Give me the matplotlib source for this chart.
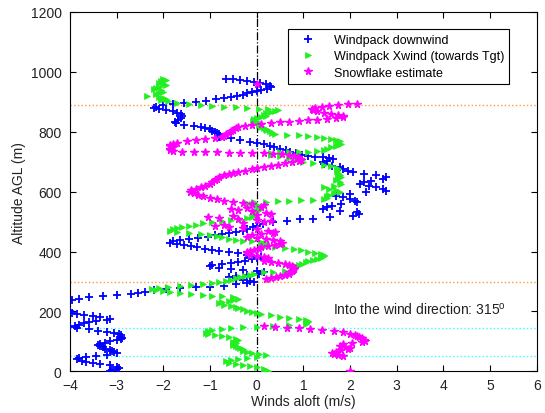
import matplotlib
matplotlib.use("Agg")
import matplotlib.pyplot as plt

plt.rcParams['font.family'] = ['Liberation Sans', 'DejaVu Sans']

# Windpack downwind component (m/s) vs altitude (m)
down_alt = [977, 975, 973, 970, 967, 963, 958, 953, 948, 944, 940, 936, 932, 928, 924, 920,
            916, 912, 908, 904, 900, 896, 892, 888, 884, 880, 876, 872, 868, 864, 858, 852,
            846, 840, 834, 828, 824, 820, 816, 812, 808, 804, 800, 796, 792, 787, 782, 778,
            772, 767, 763, 758, 754, 749, 744, 738, 733, 728, 724, 720, 717, 715, 712, 709,
            703, 698, 693, 687, 682, 676, 670, 665, 659, 654, 648, 642, 637, 631, 626, 620,
            615, 609, 603, 598, 592, 587, 581, 576, 570, 565, 559, 553, 548, 542, 537, 531,
            525, 520, 515, 509, 507, 503, 498, 492, 486, 481, 475, 470, 466, 462, 458, 454,
            450, 446, 442, 438, 434, 430, 426, 422, 418, 414, 410, 406, 402, 398, 394, 390,
            386, 382, 378, 374, 370, 366, 362, 358, 354, 350, 346, 342, 338, 334, 330, 326,
            322, 318, 314, 310, 306, 302, 298, 294, 290, 286, 283, 280, 277, 274, 270, 266,
            262, 258, 254, 250, 247, 243, 239, 235, 230, 210, 200, 196, 192, 188, 184, 180,
            176, 172, 168, 164, 160, 156, 152, 148, 144, 140, 136, 132, 128, 124, 120, 116,
            112, 108, 104, 100, 96, 92, 88, 84, 80, 76, 72, 68, 64, 60, 56, 52,
            48, 44, 40, 36, 32, 28, 24, 20, 16, 12, 8, 4, 1]
down_wind = [-0.66, -0.5, -0.35, -0.2, -0.05, 0.08, 0.2, 0.28, 0.3, 0.22, 0.1, 0.0, -0.1, -0.2, -0.3, -0.42,
             -0.55, -0.7, -0.88, -1.08, -1.3, -1.55, -1.8, -2.0, -2.15, -2.2, -2.1, -1.95, -1.8, -1.7, -1.62, -1.6,
             -1.62, -1.68, -1.75, -1.72, -1.55, -1.35, -1.2, -1.1, -1.0, -0.95, -0.9, -0.85, -0.8, -0.78, -0.8, -0.55,
             -0.35, -0.15, 0.0, 0.15, 0.28, 0.38, 0.5, 0.62, 0.72, 0.85, 0.98, 1.1, 1.25, 1.42, 1.55, 1.64,
             1.5, 1.42, 1.45, 1.62, 1.78, 1.86, 1.95, 2.07, 2.3, 2.55, 2.78, 2.7, 2.45, 2.3, 2.21, 2.4,
             2.55, 2.7, 2.78, 2.35, 2.0, 1.7, 1.85, 2.0, 2.1, 2.14, 1.8, 1.62, 1.5, 1.43, 1.78, 2.14,
             2.2, 2.07, 1.57, 1.21, 0.93, 0.64, 0.36, 0.14, 0.0, -0.07, -0.21, -0.3, -0.45, -0.6, -0.75, -0.9,
             -1.05, -1.25, -1.45, -1.65, -1.8, -1.85, -1.7, -1.55, -1.4, -1.28, -1.1, -0.95, -0.8, -0.6, -0.4, -0.2,
             0.0, 0.1, 0.0, -0.1, -0.25, -0.4, -0.55, -0.75, -0.95, -1.0, -0.8, -0.55, -0.3, 0.0, 0.15, 0.05,
             -0.2, -0.45, -0.6, -0.45, -0.3, -0.15, -0.05, -0.2, -0.45, -0.7, -1.0, -1.3, -1.65, -1.95, -2.2, -2.4,
             -2.55, -2.7, -3.0, -3.3, -3.6, -3.8, -3.95, -4.1, -4.3, -4.2, -4.0, -3.95, -3.85, -3.7, -3.5, -3.35,
             -3.15, -3.2, -3.45, -3.6, -3.7, -3.8, -3.9, -4.0, -3.85, -3.6, -3.4, -3.2, -3.05, -2.95, -2.9, -2.9,
             -2.88, -2.9, -3.0, -3.15, -3.25, -3.35, -3.4, -3.35, -3.3, -3.25, -3.15, -3.1, -3.05, -3.0, -3.2, -3.45,
             -3.65, -3.8, -3.85, -3.75, -3.65, -3.5, -3.35, -3.15, -3.0, -2.95, -3.0, -3.1, -3.15]

# Windpack crosswind component (towards target)
cross_alt = [977, 972, 968, 964, 960, 955, 950, 946, 942, 938, 934, 930, 926, 921, 917, 913,
             909, 905, 901, 897, 893, 889, 886, 883, 881, 879, 877, 875, 872, 869, 865, 861,
             857, 853, 849, 845, 841, 837, 833, 829, 825, 821, 817, 813, 809, 805, 801, 797,
             793, 790, 788, 786, 783, 780, 776, 772, 768, 764, 760, 756, 752, 748, 744, 740,
             736, 734, 733, 732, 731, 729, 724, 718, 712, 706, 700, 695, 690, 686, 680, 674,
             668, 662, 656, 650, 644, 638, 632, 626, 620, 615, 610, 605, 600, 596, 590, 585,
             580, 576, 573, 571, 570, 569, 567, 565, 563, 560, 556, 552, 546, 540, 534, 528,
             522, 516, 511, 507, 504, 501, 498, 494, 490, 486, 482, 478, 474, 470, 466, 462,
             459, 455, 451, 447, 443, 439, 436, 434, 433, 430, 425, 420, 416, 412, 408, 404,
             400, 396, 392, 388, 384, 380, 376, 372, 368, 364, 360, 356, 352, 348, 344, 340,
             336, 333, 330, 326, 322, 318, 314, 310, 306, 302, 298, 294, 290, 287, 284, 281,
             278, 275, 272, 268, 265, 262, 259, 256, 253, 250, 247, 243, 239, 235, 231, 227,
             223, 219, 215, 211, 207, 203, 199, 195, 191, 187, 183, 179, 175, 171, 167, 163,
             159, 155, 152, 149, 147, 144, 141, 137, 133, 129, 125, 121, 117, 113, 109, 105,
             101, 97, 93, 89, 85, 81, 77, 73, 69, 65, 61, 57, 53, 49, 45, 41,
             37, 33, 29, 25, 21, 17, 13, 9, 5, 2]
cross_wind = [-2.0, -1.95, -2.05, -2.1, -2.0, -1.95, -2.1, -2.15, -2.2, -2.05, -2.0, -2.1, -2.15, -2.35, -2.1, -2.0,
              -1.95, -2.05, -1.9, -1.7, -1.45, -1.2, -0.95, -0.7, -0.45, -0.2, 0.05, 0.25, 0.45, 0.4, 0.3, 0.2,
              0.15, 0.2, 0.1, 0.0, -0.05, -0.08, 0.0, 0.05, 0.1, 0.05, 0.1, 0.15, 0.2, 0.22, 0.28, 0.33,
              0.4, 0.65, 0.9, 1.1, 1.3, 1.45, 1.6, 1.7, 1.78, 1.75, 1.8, 1.75, 1.7, 1.6, 1.5, 1.45,
              1.3, 1.1, 0.9, 0.7, 0.5, 0.3, 0.3, 0.5, 0.7, 0.85, 1.0, 1.2, 1.45, 1.6, 1.72, 1.75,
              1.72, 1.75, 1.78, 1.8, 1.75, 1.7, 1.78, 1.8, 1.65, 1.45, 1.55, 1.7, 1.78, 1.65, 1.55, 1.5,
              1.5, 1.45, 1.2, 0.95, 0.7, 0.45, 0.2, -0.05, -0.2, -0.1, 0.0, 0.05, 0.1, 0.05, 0.0, -0.05,
              -0.05, -0.1, -0.2, -0.35, -0.55, -0.75, -0.95, -1.15, -1.3, -1.45, -1.6, -1.7, -1.8, -1.85, -1.7, -1.45,
              -1.2, -1.0, -0.85, -0.75, -0.6, -0.45, -0.3, -0.1, 0.1, 0.2, 0.15, 0.2, 0.4, 0.6, 0.8, 0.95,
              1.1, 1.25, 1.38, 1.45, 1.45, 1.38, 1.3, 1.2, 1.1, 1.05, 0.98, 0.9, 0.85, 0.8, 0.78, 0.75,
              0.6, 0.35, 0.15, -0.05, -0.15, -0.25, -0.35, -0.45, -0.55, -0.65, -0.8, -0.95, -1.15, -1.4, -1.65, -1.9,
              -2.1, -2.25, -2.15, -2.0, -1.85, -1.65, -1.4, -1.15, -0.95, -0.75, -0.5, -0.4, -0.5, -0.6, -0.75, -0.8,
              -0.7, -0.55, -0.45, -0.4, -0.3, -0.2, -0.1, 0.0, 0.1, 0.3, 0.5, 0.7, 0.9, 1.05, 1.1, 1.1,
              1.05, 0.7, 0.35, 0.0, -0.3, -0.55, -0.75, -0.95, -1.05, -1.08, -1.05, -0.9, -0.75, -0.6, -0.45, -0.4,
              -0.45, -0.5, -0.45, -0.5, -0.45, -0.4, -0.35, -0.3, -0.3, -0.2, -0.1, 0.05, 0.2, 0.0, -0.2, -0.4,
              -0.55, -0.65, -0.6, -0.45, -0.3, -0.15, 0.0, 0.15, 0.2, 0.25]

# Snowflake drift estimate
snow_alt = [958, 893, 891, 889, 887, 884, 880, 876, 872, 868, 864, 860, 856, 852, 848, 845,
            842, 840, 838, 836, 834, 832, 829, 826, 823, 819, 815, 811, 806, 801, 796, 791,
            786, 782, 778, 775, 772, 768, 764, 760, 756, 752, 748, 744, 740, 736, 733, 732,
            731, 731, 730, 730, 729, 728, 727, 725, 722, 718, 714, 710, 706, 702, 698, 694,
            690, 686, 682, 678, 674, 670, 666, 662, 658, 654, 648, 643, 638, 632, 626, 620,
            615, 610, 605, 600, 595, 590, 585, 580, 575, 570, 566, 562, 558, 554, 550, 546,
            542, 538, 534, 530, 526, 522, 518, 515, 512, 509, 506, 502, 498, 494, 490, 486,
            482, 478, 474, 470, 466, 462, 458, 454, 450, 446, 442, 438, 434, 430, 426, 422,
            418, 414, 410, 406, 402, 398, 394, 390, 386, 382, 378, 374, 370, 366, 362, 358,
            354, 350, 346, 342, 338, 334, 330, 326, 322, 318, 314, 310, 307,
            150, 148, 146, 144, 141, 138, 134, 130, 126, 122, 118, 114, 110, 106, 102, 98,
            94, 90, 86, 82, 78, 74, 70, 66, 62, 58, 54, 51, 0]
snow_wind = [0.0, 2.15, 1.95, 1.75, 1.55, 1.4, 1.25, 1.18, 1.2, 1.3, 1.45, 1.6, 1.75, 1.85, 1.85, 1.7,
             1.5, 1.3, 1.1, 0.9, 0.7, 0.5, 0.3, 0.1, -0.1, -0.25, -0.4, -0.45, -0.5, -0.55, -0.6, -0.65,
             -0.7, -0.75, -0.9, -1.1, -1.3, -1.5, -1.7, -1.8, -1.85, -1.85, -1.8, -1.85, -1.85, -1.8, -1.6, -1.35,
             -1.1, -0.85, -0.6, -0.35, -0.1, 0.15, 0.35, 0.55, 0.7, 0.8, 0.88, 0.93, 0.95, 0.9, 0.75, 0.6,
             0.45, 0.3, 0.15, 0.0, -0.1, -0.25, -0.4, -0.5, -0.6, -0.7, -0.8, -0.85, -0.9, -0.95, -1.0, -1.1,
             -1.2, -1.3, -1.4, -1.42, -1.35, -1.25, -1.15, -1.0, -0.85, -0.7, -0.5, -0.3, -0.1, 0.15, 0.1, -0.2,
             -0.55, -0.4, -0.1, 0.2, 0.3, 0.0, -0.5, -1.05, -0.8, -0.4, 0.0, 0.3, 0.15, -0.3, -0.7, -0.9,
             -0.6, -0.3, 0.0, 0.25, 0.4, 0.35, 0.1, -0.1, -0.2, 0.0, 0.2, 0.35, 0.5, 0.55, 0.5, 0.4,
             0.25, 0.1, 0.05, -0.05, -0.15, -0.2, -0.2, -0.15, 0.0, 0.15, 0.25, 0.2, 0.15, 0.3, 0.45, 0.6,
             0.7, 0.75, 0.8, 0.8, 0.78, 0.75, 0.72, 0.7, 0.6, 0.5, 0.42, 0.3, 0.2,
             0.15, 0.4, 0.65, 0.9, 1.15, 1.4, 1.65, 1.85, 2.0, 2.1, 2.15, 2.2, 2.25, 2.3, 2.32, 2.25,
             2.05, 1.85, 1.78, 1.9, 2.0, 1.95, 1.8, 1.7, 1.62, 1.65, 1.75, 1.85, 2.0]

orange_levels = [890, 297]
cyan_levels = [143, 52]
wind_dir = 315

fig = plt.figure(figsize=(5.45, 4.14), dpi=100)
ax = fig.add_axes([0.1284, 0.1007, 0.8564, 0.868])

# reference lines
for lev in orange_levels:
    ax.axhline(lev, color='#ff9933', linestyle=':', linewidth=1.0, zorder=1)
for lev in cyan_levels:
    ax.axhline(lev, color='#33ffff', linestyle=':', linewidth=1.0, zorder=1)
ax.axvline(0, color='black', linestyle='-.', linewidth=0.9, zorder=1)

# the three wind profiles
ax.plot(down_wind, down_alt, '+', color='#0000ff', markersize=6, mew=1.3,
        label='Windpack downwind', zorder=3)
ax.plot(cross_wind, cross_alt, '>', color='#22ee22', markersize=4, mew=0.5,
        label='Windpack Xwind (towards Tgt)', zorder=3)
ax.plot(snow_wind, snow_alt, '*', color='#ff00ff', markersize=5.5,
        label='Snowflake estimate', zorder=4)

ax.text(1.63, 208, 'Into the wind direction: %d$^{\\mathregular{o}}$' % wind_dir,
        fontsize=10, va='center', ha='left', color='#222222')

ax.set_xlim(-4, 6)
ax.set_ylim(0, 1200)
ax.set_xticks(range(-4, 7))
ax.set_yticks(range(0, 1201, 200))
ax.tick_params(direction='in', top=True, right=True, labelsize=10, length=4,
               labelcolor='#222222')
ax.tick_params(axis='x', pad=5)
ax.tick_params(axis='y', pad=6)
ax.set_xlabel('Winds aloft (m/s)', fontsize=10, labelpad=1, color='#222222')
ax.set_ylabel('Altitude AGL (m)', fontsize=10, labelpad=3, color='#222222')

leg = ax.legend(loc='upper right', bbox_to_anchor=(0.955, 0.97), fontsize=9,
                fancybox=False, framealpha=1, edgecolor='black',
                handlelength=2.5, borderpad=0.4, labelspacing=0.35)
leg.get_frame().set_linewidth(0.8)

fig.savefig('out.png', dpi=100)
